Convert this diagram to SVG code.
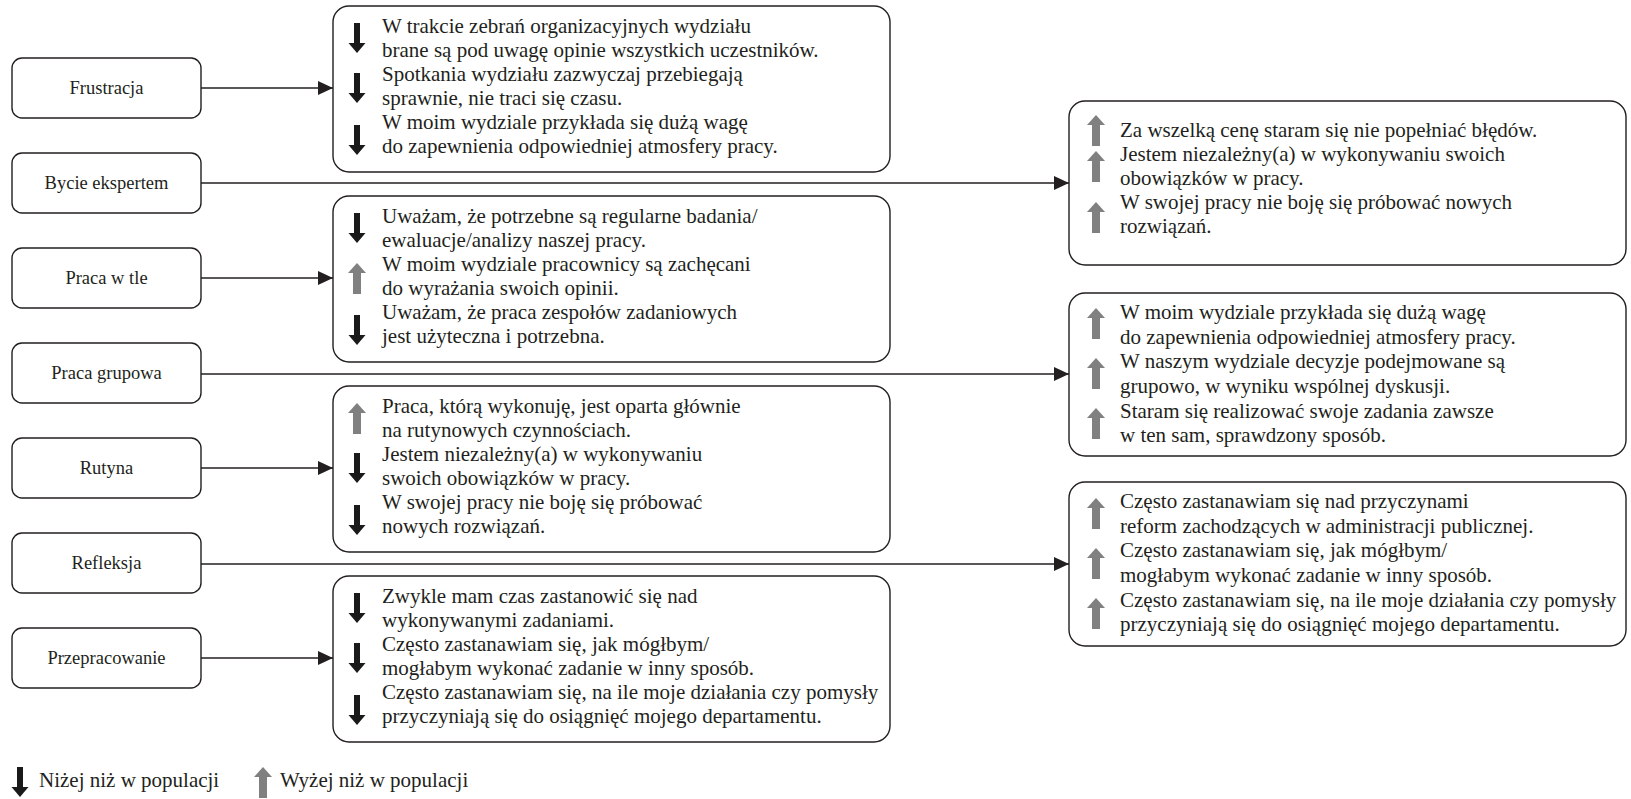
<svg xmlns="http://www.w3.org/2000/svg" width="1631" height="799" viewBox="0 0 1631 799">
<style>
.box{fill:#fff;stroke:#231f20;stroke-width:1.4}
.lbl{font-family:"Liberation Serif",serif;font-size:18.5px;fill:#231f20;text-anchor:middle}
.t{font-family:"Liberation Serif",serif;font-size:21px;fill:#231f20}
.con{stroke:#231f20;stroke-width:1.6;fill:none}
</style>
<defs>
<marker id="ah" markerUnits="userSpaceOnUse" markerWidth="16" markerHeight="14" refX="15" refY="7" orient="auto">
<path d="M0,0 L15,7 L0,14 z" fill="#231f20"/>
</marker>
<g id="dn"><rect x="-3" y="0" width="6" height="21" fill="#1a1a1a"/><path d="M-8.5,20 L8.5,20 L0,30 z" fill="#1a1a1a"/></g>
<g id="up"><path d="M0,0 L-9,10 L9,10 z" fill="#808080"/><rect x="-4" y="9.5" width="8" height="21.5" fill="#808080"/></g>
</defs>
<rect width="1631" height="799" fill="#fff"/>

<g id="connectors">
<line class="con" x1="201" y1="88" x2="333" y2="88" marker-end="url(#ah)"/>
<line class="con" x1="201" y1="183" x2="1069" y2="183" marker-end="url(#ah)"/>
<line class="con" x1="201" y1="278" x2="333" y2="278" marker-end="url(#ah)"/>
<line class="con" x1="201" y1="374" x2="1069" y2="374" marker-end="url(#ah)"/>
<line class="con" x1="201" y1="468" x2="333" y2="468" marker-end="url(#ah)"/>
<line class="con" x1="201" y1="564" x2="1069" y2="564" marker-end="url(#ah)"/>
<line class="con" x1="201" y1="658" x2="333" y2="658" marker-end="url(#ah)"/>
</g>

<g id="n-frustracja"><rect class="box" x="12" y="58" width="189" height="60" rx="10"/><text class="lbl" x="106.5" y="94">Frustracja</text></g>
<g id="n-bycie"><rect class="box" x="12" y="153" width="189" height="60" rx="10"/><text class="lbl" x="106.5" y="189">Bycie ekspertem</text></g>
<g id="n-tlo"><rect class="box" x="12" y="248" width="189" height="60" rx="10"/><text class="lbl" x="106.5" y="284">Praca w tle</text></g>
<g id="n-grupowa"><rect class="box" x="12" y="343" width="189" height="60" rx="10"/><text class="lbl" x="106.5" y="379">Praca grupowa</text></g>
<g id="n-rutyna"><rect class="box" x="12" y="438" width="189" height="60" rx="10"/><text class="lbl" x="106.5" y="474">Rutyna</text></g>
<g id="n-refleksja"><rect class="box" x="12" y="533" width="189" height="60" rx="10"/><text class="lbl" x="106.5" y="569">Refleksja</text></g>
<g id="n-przeprac"><rect class="box" x="12" y="628" width="189" height="60" rx="10"/><text class="lbl" x="106.5" y="664">Przepracowanie</text></g>

<g id="m-frustracja">
<rect class="box" x="333" y="6" width="557" height="166" rx="16"/>
<use href="#dn" x="357" y="23"/><use href="#dn" x="357" y="73"/><use href="#dn" x="357" y="125"/>
<text class="t" x="382" y="33">W trakcie zebrań organizacyjnych wydziału</text>
<text class="t" x="382" y="57">brane są pod uwagę opinie wszystkich uczestników.</text>
<text class="t" x="382" y="81">Spotkania wydziału zazwyczaj przebiegają</text>
<text class="t" x="382" y="105">sprawnie, nie traci się czasu.</text>
<text class="t" x="382" y="129">W moim wydziale przykłada się dużą wagę</text>
<text class="t" x="382" y="153">do zapewnienia odpowiedniej atmosfery pracy.</text>
</g>

<g id="m-tlo">
<rect class="box" x="333" y="196" width="557" height="166" rx="16"/>
<use href="#dn" x="357" y="213"/><use href="#up" x="357" y="263"/><use href="#dn" x="357" y="315"/>
<text class="t" x="382" y="223">Uważam, że potrzebne są regularne badania/</text>
<text class="t" x="382" y="247">ewaluacje/analizy naszej pracy.</text>
<text class="t" x="382" y="271">W moim wydziale pracownicy są zachęcani</text>
<text class="t" x="382" y="295">do wyrażania swoich opinii.</text>
<text class="t" x="382" y="319">Uważam, że praca zespołów zadaniowych</text>
<text class="t" x="382" y="343">jest użyteczna i potrzebna.</text>
</g>

<g id="m-rutyna">
<rect class="box" x="333" y="386" width="557" height="166" rx="16"/>
<use href="#up" x="357" y="403"/><use href="#dn" x="357" y="453"/><use href="#dn" x="357" y="505"/>
<text class="t" x="382" y="413">Praca, którą wykonuję, jest oparta głównie</text>
<text class="t" x="382" y="437">na rutynowych czynnościach.</text>
<text class="t" x="382" y="461">Jestem niezależny(a) w wykonywaniu</text>
<text class="t" x="382" y="485">swoich obowiązków w pracy.</text>
<text class="t" x="382" y="509">W swojej pracy nie boję się próbować</text>
<text class="t" x="382" y="533">nowych rozwiązań.</text>
</g>

<g id="m-przeprac">
<rect class="box" x="333" y="576" width="557" height="166" rx="16"/>
<use href="#dn" x="357" y="593"/><use href="#dn" x="357" y="643"/><use href="#dn" x="357" y="695"/>
<text class="t" x="382" y="603">Zwykle mam czas zastanowić się nad</text>
<text class="t" x="382" y="627">wykonywanymi zadaniami.</text>
<text class="t" x="382" y="651">Często zastanawiam się, jak mógłbym/</text>
<text class="t" x="382" y="675">mogłabym wykonać zadanie w inny sposób.</text>
<text class="t" x="382" y="699">Często zastanawiam się, na ile moje działania czy pomysły</text>
<text class="t" x="382" y="723">przyczyniają się do osiągnięć mojego departamentu.</text>
</g>

<g id="r-bycie">
<rect class="box" x="1069" y="101" width="557" height="164" rx="16"/>
<use href="#up" x="1096" y="115"/><use href="#up" x="1096" y="151"/><use href="#up" x="1096" y="202"/>
<text class="t" x="1120" y="137">Za wszelką cenę staram się nie popełniać błędów.</text>
<text class="t" x="1120" y="161">Jestem niezależny(a) w wykonywaniu swoich</text>
<text class="t" x="1120" y="185">obowiązków w pracy.</text>
<text class="t" x="1120" y="209">W swojej pracy nie boję się próbować nowych</text>
<text class="t" x="1120" y="233">rozwiązań.</text>
</g>

<g id="r-grupowa">
<rect class="box" x="1069" y="293" width="557" height="163" rx="16"/>
<use href="#up" x="1096" y="308"/><use href="#up" x="1096" y="358"/><use href="#up" x="1096" y="408"/>
<text class="t" x="1120" y="319">W moim wydziale przykłada się dużą wagę</text>
<text class="t" x="1120" y="344">do zapewnienia odpowiedniej atmosfery pracy.</text>
<text class="t" x="1120" y="368">W naszym wydziale decyzje podejmowane są</text>
<text class="t" x="1120" y="393">grupowo, w wyniku wspólnej dyskusji.</text>
<text class="t" x="1120" y="418">Staram się realizować swoje zadania zawsze</text>
<text class="t" x="1120" y="442">w ten sam, sprawdzony sposób.</text>
</g>

<g id="r-refleksja">
<rect class="box" x="1069" y="482" width="557" height="164" rx="16"/>
<use href="#up" x="1096" y="498"/><use href="#up" x="1096" y="548"/><use href="#up" x="1096" y="598"/>
<text class="t" x="1120" y="508">Często zastanawiam się nad przyczynami</text>
<text class="t" x="1120" y="533">reform zachodzących w administracji publicznej.</text>
<text class="t" x="1120" y="557">Często zastanawiam się, jak mógłbym/</text>
<text class="t" x="1120" y="582">mogłabym wykonać zadanie w inny sposób.</text>
<text class="t" x="1120" y="607">Często zastanawiam się, na ile moje działania czy pomysły</text>
<text class="t" x="1120" y="631">przyczyniają się do osiągnięć mojego departamentu.</text>
</g>

<g id="legend">
<use href="#dn" x="20" y="767"/>
<text class="t" x="39" y="787">Niżej niż w populacji</text>
<use href="#up" x="263" y="767"/>
<text class="t" x="280" y="787">Wyżej niż w populacji</text>
</g>
</svg>
